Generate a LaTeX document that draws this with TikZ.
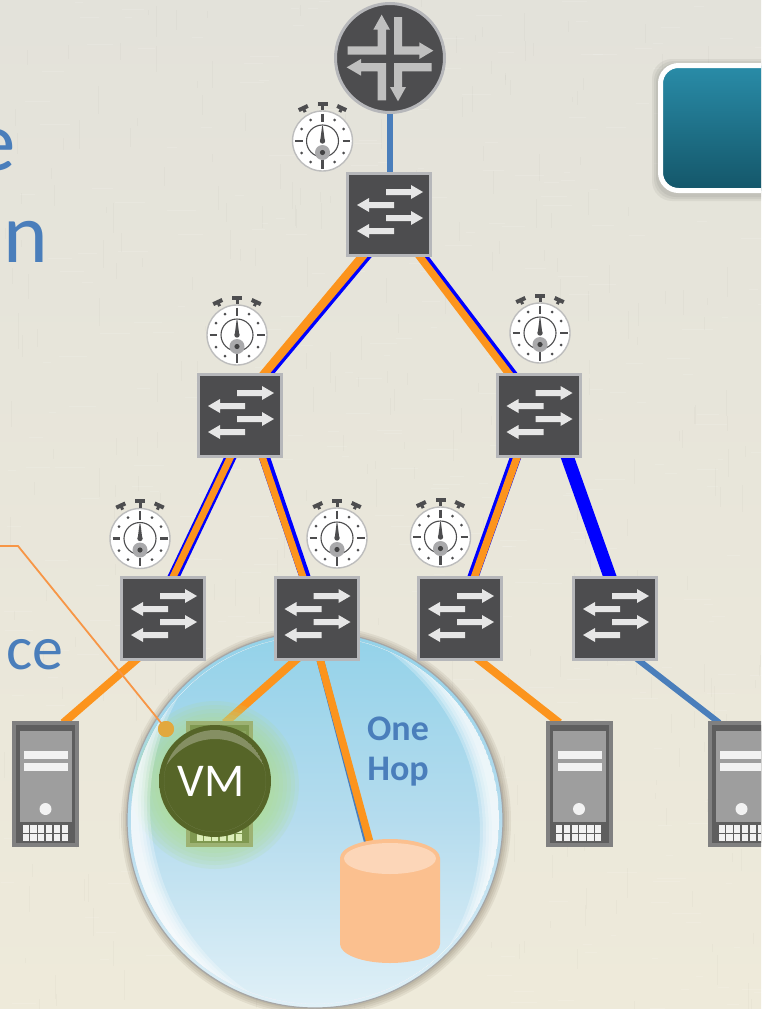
\documentclass[tikz,border=0pt]{standalone}
\usepackage{fontspec}
\setmainfont{Carlito}
\usetikzlibrary{calc}
\pgfdeclarelayer{back}
\pgfdeclarelayer{links}
\pgfsetlayers{back,links,main}
\definecolor{papertop}{HTML}{E3E2DA}
\definecolor{paperbot}{HTML}{EEEADA}
\definecolor{steel}{HTML}{4A7EBB}
\definecolor{linkorange}{HTML}{FC941D}
\definecolor{linkblue}{HTML}{0000FF}
\definecolor{devdark}{HTML}{4D4D4F}
\definecolor{devedge}{HTML}{B6B7BA}
\definecolor{arrowlight}{HTML}{E6E6E6}
\definecolor{routerarrow}{HTML}{BFBFBF}
\definecolor{watchedge}{HTML}{BDBDBD}
\definecolor{watchhub}{HTML}{A9A9AB}
\definecolor{callout}{HTML}{F79646}
\definecolor{calloutdot}{HTML}{E2A83E}
\definecolor{dbbody}{HTML}{FBC08F}
\definecolor{dbtop}{HTML}{FCD6B8}
\definecolor{glowgreen}{HTML}{AEDC92}
\definecolor{vmcore}{HTML}{566528}
\definecolor{vmrim}{HTML}{232A0C}
\definecolor{boxtop}{HTML}{298CA8}
\definecolor{boxbot}{HTML}{145669}
\definecolor{bubtop}{HTML}{93D2E9}
\definecolor{bubmid}{HTML}{B5DCEE}
\definecolor{bubbot}{HTML}{E0F0F7}
\definecolor{srvouter}{HTML}{808080}
\definecolor{srvdark}{HTML}{5E5E5E}
\definecolor{srvinner}{HTML}{9E9E9E}
\definecolor{srvlight}{HTML}{F2F2F2}
\definecolor{vmsouter}{HTML}{9DB273}
\definecolor{vmsdark}{HTML}{7F9850}
\definecolor{vmsinner}{HTML}{8AA35E}
\definecolor{vmslight}{HTML}{DCEDB8}
\pgfdeclareradialshading{vmball}{\pgfpoint{-2bp}{3bp}}{%
  color(0bp)=(vmcore); color(40bp)=(vmcore); color(47bp)=(vmcore!75!black); color(53bp)=(vmrim)}
\tikzset{
  device/.style={draw=devedge,fill=devdark,line width=3pt,inner sep=0pt,outer sep=0pt},
  swbox/.style={device,rectangle,minimum width=83pt,minimum height=82pt},
  routerbox/.style={device,circle,minimum size=109pt},
  watchbox/.style={circle,draw=watchedge,fill=white,line width=1.4pt,minimum size=60pt,inner sep=0pt,outer sep=0pt},
  srvbox/.style={rectangle,minimum width=67pt,minimum height=126pt,inner sep=0pt,outer sep=0pt},
  dbbox/.style={rectangle,minimum width=100pt,minimum height=124pt,inner sep=0pt,outer sep=0pt},
  vmbox/.style={circle,minimum size=112pt,inner sep=0pt,outer sep=0pt},
  swarrow/.style={fill=arrowlight,draw=none},
  rtarrow/.style={fill=routerarrow,draw=none},
  lk/.style={line cap=butt,shorten <=-3pt,shorten >=-3pt},
  orangelink/.style={lk,draw=linkorange,line width=#1},
  bluelink/.style={lk,draw=linkblue,line width=#1},
  steellink/.style={lk,draw=steel,line width=#1},
  bluetext/.style={text=steel,inner sep=0pt,outer sep=0pt},
}
\newcommand{\netswitch}[3]{%
  \node[swbox] (#1) at (#2,#3) {};
  \begin{scope}[shift={(#2,#3)}]
    \fill[swarrow] (-3,-25)--(22,-25)--(22,-29)--(34,-22)--(22,-15)--(22,-19)--(-3,-19)--cycle;
    \fill[swarrow] (5,-12)--(-20,-12)--(-20,-16)--(-32,-9)--(-20,-2)--(-20,-6)--(5,-6)--cycle;
    \fill[swarrow] (-3,1)--(22,1)--(22,-3)--(34,4)--(22,11)--(22,7)--(-3,7)--cycle;
    \fill[swarrow] (5,14)--(-20,14)--(-20,10)--(-32,17)--(-20,24)--(-20,20)--(5,20)--cycle;
  \end{scope}}
\newcommand{\watchface}[3]{%
  \node[watchbox] (#1) at (#2,#3) {};
  \begin{scope}[shift={(#2,#3)}]
    \fill[devdark] (-5,-39.5) rectangle (5,-35.5);
    \fill[devdark] (-1.5,-36) rectangle (1.5,-31);
    \foreach \s in {-1,1}{
      \begin{scope}[shift={(\s*19,-32.5)},rotate=\s*(-25)]
        \fill[devdark] (-5,-2.5) rectangle (5,1.5);
        \fill[devdark] (-1.5,1) rectangle (1.5,4);
      \end{scope}}
    \draw[devdark,line width=2.2pt] (0,-27.5)--(0,-19) (0,19)--(0,27.5) (-27.5,0)--(-20,0) (20,0)--(27.5,0);
    \foreach \dx/\dy in {-21/-12,-12/-21,12/-21,21/-12,-21/12,-12/21,12/21,21/12}
      \fill[devdark] (\dx,\dy) circle (1.5pt);
    \draw[devdark,line width=1.1pt] (0,0) circle (16pt);
    \fill[watchhub] (0,11.5) circle (7.5pt);
    \fill[devdark!85!black] (0,11.5) circle (2.6pt);
    \fill[devdark] (-0.4,-15)--(0.4,-15)--(2.3,0)--(-2.3,0)--cycle;
    \fill[devdark] (0,0) circle (2.7pt);
  \end{scope}}
% name, cx, cy, outer, dark, inner, light
\newcommand{\serverbox}[7]{%
  \node[srvbox,fill=#4] (#1) at (#2,#3) {};
  \begin{scope}[shift={(#2,#3)},shift={(-33.5,-63)}]
    \fill[#5] (4,4) rectangle (63,122);
    \fill[#6] (7.5,10) rectangle (60,101);
    \fill[#7] (12,30) rectangle (56,37.5);
    \fill[#7] (12,42) rectangle (56,50);
    \fill[#7] (33.5,88) circle (6pt);
    \foreach \c in {0,...,5}{
      \fill[#7] (10.5+\c*7.8,104) rectangle +(6.3,7.5);
      \fill[#7] (10.5+\c*7.8,113) rectangle +(6.3,7);}
  \end{scope}}
\begin{document}
\begin{tikzpicture}[x=1pt,y=-1pt]
\useasboundingbox (0,0) rectangle (761,1009);
\clip (0,0) rectangle (761,1009);

% ---- paper and bubble
\begin{pgfonlayer}{back}
  \shade[top color=papertop,bottom color=paperbot] (0,0) rectangle (761,1009);
  \pgfmathsetseed{11}
  \foreach \i in {1,...,700}{
    \pgfmathsetmacro{\tx}{rnd*761}
    \pgfmathsetmacro{\ty}{rnd*1009}
    \pgfmathsetmacro{\tl}{rnd*26+5}
    \ifodd\i
      \draw[white,opacity=.12,line width=.8pt] (\tx,\ty) -- ++(\tl,0);
    \else
      \draw[black,opacity=.02,line width=.8pt] (\tx,\ty) -- ++(0,\tl);
    \fi}
  % bubble shadow
  \foreach \r in {195,193,191,189}
    \fill[black!70!brown,opacity=.07] (316,821) circle (\r pt);
  \shade[top color=bubtop,bottom color=bubbot,middle color=bubmid] (315,820) circle (188pt);
  \draw[black!35,line width=1.2pt] (315,820) circle (188pt);
\end{pgfonlayer}

% ---- top-right panel
\foreach \k in {6,4,2}
  \fill[black,opacity=.05,rounded corners=20pt] (658-\k,63-\k+2) rectangle (900,193+\k+2);
\shade[top color=boxtop,bottom color=boxbot,draw=white,line width=5pt,rounded corners=18pt]
  (660.5,65.5) rectangle (900,190.5);

% ---- cut-off texts
\node[bluetext,anchor=base west,font=\fontsize{85}{90}\selectfont] (tE) at (-26,170) {e};
\node[bluetext,anchor=base west,font=\fontsize{85}{90}\selectfont] (tN) at (4,262) {n};
\node[bluetext,anchor=base west,font=\fontsize{62}{64}\selectfont] (tCE) at (6.5,669) {ce};

% ---- glow round the VM (over links, inside bubble)
\begin{scope}
  \clip (315,820) circle (187pt);
  \foreach \r in {84,80,...,48}
    \fill[glowgreen,opacity=.16] (215,785) circle (\r pt);
  % glossy crescents
  \begin{scope}
    \clip (315,820) circle (184pt);
    \foreach \t in {20,17,14,11,8}{
      \pgfmathsetmacro{\rin}{244-\t}
      \fill[white,opacity=.27,even odd rule] (315,820) circle (184pt) (374,806) circle (\rin pt);
      \fill[white,opacity=.27,even odd rule] (315,820) circle (184pt) (256,832) circle (\rin pt);
    }
  \end{scope}
\end{scope}

% ---- devices
\node[routerbox] (router) at (390,58) {};
\begin{scope}[shift={(390,58)},scale=1/3]
  \fill[rtarrow] (-127,-35)--(-37,-35)--(-37,-85)--(-50,-85)--(-25,-130)--(0,-85)--(-12,-85)--(-12,-10)--(-127,-10)--cycle;
  \fill[rtarrow] (12,-123)--(36,-123)--(36,-35)--(88,-35)--(88,-47)--(130,-22)--(88,3)--(88,-10)--(12,-10)--cycle;
  \fill[rtarrow] (-12,127)--(-37,127)--(-37,40)--(-87,40)--(-87,53)--(-130,28)--(-87,3)--(-87,15)--(-12,15)--cycle;
  \fill[rtarrow] (125,15)--(125,40)--(36,40)--(36,87)--(48,87)--(24,130)--(0,87)--(12,87)--(12,15)--cycle;
\end{scope}

\netswitch{swTop}{389}{214}
\netswitch{swL}{240}{415}
\netswitch{swR}{538.5}{415}
\netswitch{swA}{163}{618}
\netswitch{swB}{316.5}{618}
\netswitch{swC}{460}{618}
\netswitch{swD}{615}{618}

\watchface{w1}{322.5}{141}
\watchface{w2}{237}{335}
\watchface{w3}{540}{333}
\watchface{w4}{140}{538.5}
\watchface{w5}{337}{538}
\watchface{w6}{440.5}{537}

\serverbox{srvA}{45.5}{784}{srvouter}{srvdark}{srvinner}{srvlight}
\serverbox{srvB}{219.5}{784}{vmsouter}{vmsdark}{vmsinner}{vmslight}
\serverbox{srvC}{579}{784}{srvouter}{srvdark}{srvinner}{srvlight}
\serverbox{srvD}{741.5}{784}{srvouter}{srvdark}{srvinner}{srvlight}

% ---- storage
\node[dbbox] (db) at (390,901) {};
\fill[dbbody] (340,858) arc[start angle=180,end angle=0,x radius=50pt,y radius=19pt]
  -- (440,944) arc[start angle=0,end angle=-180,x radius=50pt,y radius=19pt] -- cycle;
\fill[dbtop] (390,858.5) ellipse [x radius=46pt,y radius=15.5pt];

% ---- VM
\node[vmbox] (vm) at (215,781) {};
\shade[shading=vmball] (215,781) circle (56pt);
\begin{scope}
  \clip (215,781) circle (51pt);
  \fill[white,opacity=.28,even odd rule] (215,781) circle (51pt) (215,797) circle (58pt);
\end{scope}
\node[text=white,font=\fontsize{47}{50}\selectfont,inner sep=0pt] (vmlabel) at (211,781) {VM};

% ---- labels and callout
\node[bluetext,align=center,font=\fontsize{36}{40}\selectfont\bfseries] (hop) at (398,752) {One\\Hop};
\coordinate (calloutStart) at (0,546);
\coordinate (calloutBend) at (18,546);
\node[circle,fill=calloutdot,minimum size=16pt,inner sep=0pt,outer sep=0pt] (dot) at (166,729) {};
\draw[callout,line width=1.8pt] (calloutStart) -- (calloutBend) -- (dot.center);
\node[circle,fill=calloutdot,minimum size=16pt,inner sep=0pt,outer sep=0pt] at (dot) {};

% ---- connectors
\begin{pgfonlayer}{links}
  \draw[steellink=6pt] ([xshift=0pt]router.south) -- ([xshift=1pt]swTop.north);
  \draw[bluelink=9pt] ([xshift=-21.5pt]swTop.south) -- ([xshift=28pt]swL.north);
  \draw[orangelink=8.5pt] ([xshift=-25.5pt]swTop.south) -- ([xshift=24pt]swL.north);
  \draw[bluelink=9pt] ([xshift=33pt]swTop.south) -- ([xshift=-26pt]swR.north);
  \draw[orangelink=7.5pt] ([xshift=29.5pt]swTop.south) -- ([xshift=-29.5pt]swR.north);
  \draw[bluelink=11.5pt] ([xshift=-9pt]swL.south) -- ([xshift=10.5pt]swA.north);
  \draw[orangelink=7pt] ([xshift=-9pt]swL.south) -- ([xshift=10pt]swA.north);
  \draw[bluelink=11pt] ([xshift=24pt]swL.south) -- ([xshift=-11.5pt]swB.north);
  \draw[orangelink=7pt] ([xshift=22pt]swL.south) -- ([xshift=-13.5pt]swB.north);
  \draw[bluelink=11pt] ([xshift=-22.5pt]swR.south) -- ([xshift=13pt]swC.north);
  \draw[orangelink=7.5pt] ([xshift=-21pt]swR.south) -- ([xshift=14.5pt]swC.north);
  \draw[bluelink=13pt] ([xshift=28.5pt]swR.south) -- ([xshift=-5pt]swD.north);
  \draw[orangelink=8pt] ([xshift=-26pt]swA.south) -- ([xshift=20pt]srvA.north);
  \draw[orangelink=8pt] ([xshift=-19.5pt]swB.south) -- ([xshift=7.5pt]srvB.north);
  \draw[steellink=7.5pt] ([xshift=3.5pt]swB.south) -- ([xshift=-23pt]db.north);
  \draw[orangelink=7.5pt] ([xshift=3.5pt]swB.south) -- ([xshift=-21pt]db.north);
  \draw[orangelink=8pt] ([xshift=18pt]swC.south) -- ([xshift=-22pt]srvC.north);
  \draw[steellink=6pt] ([xshift=22pt]swD.south) -- ([xshift=-24.5pt]srvD.north);
\end{pgfonlayer}
\end{tikzpicture}
\end{document}
